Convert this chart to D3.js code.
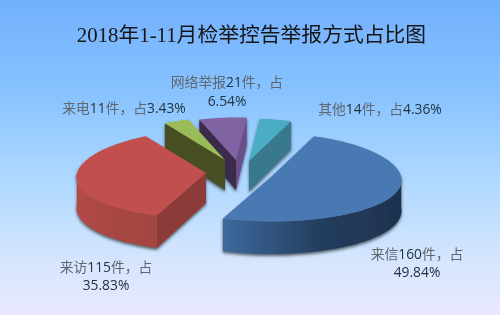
<!DOCTYPE html>
<html><head><meta charset="utf-8">
<script src="https://cdn.jsdelivr.net/npm/d3@7"></script>
<style>html,body{margin:0;padding:0;background:#e6e6ff}svg{display:block}</style>
</head><body><div id="c"></div>
<script>
const title = "2018年1-11月检举控告举报方式占比图";
const categories = ["来信","来访","来电","网络举报","其他"];
const counts = [160,115,11,21,14];
const percents = ["49.84%","35.83%","3.43%","6.54%","4.36%"];

const W=500,H=315;
const layout = {
  startDeg:21, rx:129, ry:44, persp:0.098, squash:1.5, depth:30, depthVar:2.5,
  explode:[[272,176],[206,173],[225,160],[236,160],[249,161]],
  labelPos:[[417,254],[106,267],[124,108],[227,82],[380,109]],
  labelWrap:[true,true,false,true,false],
  lineGap:[18,18,0,19,0]
};
const palette = {
  top:["#4a79b2","#c0504d","#9bbb59","#8064a2","#4bacc6"],
  rimL:["#3d6a9e","#b24a47","#6e8a3d","#5d4a78","#37798d"],
  rimR:["#1e324e","#a44542","#4a5422","#3a2c4a","#2f6a7c"],
  startWall:["#28405f","#8d3a37","#464f22","#3a2c4b","#37798d"],
  endWall:["#28405f","#8d3a37","#464f22","#6a4f87","#37798d"]
};

const svg=d3.select("#c").append("svg").attr("width",W).attr("height",H);
const defs=svg.append("defs");
const bg=defs.append("linearGradient").attr("id","bg").attr("x1",0).attr("y1",0).attr("x2",0).attr("y2",1);
[[0,"#72b0fd"],[0.3,"#88c3ff"],[0.6,"#b3daff"],[0.85,"#d9e6fe"],[1,"#e8e8ff"]].forEach(s=>bg.append("stop").attr("offset",s[0]).attr("stop-color",s[1]));
const sh=defs.append("filter").attr("id","sh").attr("x","-20%").attr("y","-20%").attr("width","140%").attr("height","150%");
sh.append("feDropShadow").attr("dx",0).attr("dy",2).attr("stdDeviation",1.8).attr("flood-color","#2a3038").attr("flood-opacity",0.75);
const soft=defs.append("filter").attr("id","soft");
soft.append("feGaussianBlur").attr("stdDeviation",0.35);

svg.append("rect").attr("width",W).attr("height",H).attr("fill","url(#bg)");
svg.append("text").attr("x",251.5).attr("y",42).attr("text-anchor","middle")
  .attr("font-family","'Liberation Serif','Noto Sans CJK SC',serif").attr("font-size",20.8).attr("fill","#141414")
  .attr("filter","url(#soft)").text(title);

const toRad=Math.PI/180;
const pie=d3.pie().sort(null).startAngle(layout.startDeg*toRad).endAngle((layout.startDeg+360)*toRad);
const arcs=pie(counts);
const line=d3.line();

function proj(c,th){
  const s=Math.sin(th),k=Math.cos(th);
  return [c[0]+s*layout.rx*(1-layout.persp*k), c[1]-k*layout.ry+layout.squash*k*k];
}
function down(p,th){return [p[0],p[1]+layout.depth-layout.depthVar*Math.cos(th)];}
function sampled(a,b){const n=Math.max(2,Math.ceil(Math.abs(b-a)/(1.5*toRad)));return d3.range(n+1).map(i=>a+(b-a)*i/n);}

const mid=d=>(d.startAngle+d.endAngle)/2;
const order=arcs.map((d,i)=>i).sort((a,b)=>Math.cos(mid(arcs[b]))-Math.cos(mid(arcs[a])));

order.forEach(i=>{
  const d=arcs[i],c=layout.explode[i],a0=d.startAngle,a1=d.endAngle;
  const g=svg.append("g").attr("filter","url(#sh)");
  const gid="rim"+i;
  const lg=defs.append("linearGradient").attr("id",gid);
  lg.append("stop").attr("offset",0).attr("stop-color",palette.rimL[i]);
  lg.append("stop").attr("offset",0.55).attr("stop-color",d3.interpolateRgb(palette.rimL[i],palette.rimR[i])(0.8));
  lg.append("stop").attr("offset",1).attr("stop-color",palette.rimR[i]);
  const ps=proj(c,a0),pe=proj(c,a1);
  const apexBottom=[c[0],c[1]+layout.depth];
  // radial walls, only those that face the viewer
  if(ps[0]<c[0]) g.append("path").attr("fill",palette.startWall[i])
    .attr("d",line([c,ps,down(ps,a0),apexBottom])+"Z");
  if(c[0]<pe[0]) g.append("path").attr("fill",palette.endWall[i])
    .attr("d",line([c,pe,down(pe,a1),apexBottom])+"Z");
  // outer rim: only the front half (cos < 0) is visible
  const front=sampled(a0,a1).filter(t=>Math.cos(t)<=0);
  if(front.length>1){
    const topE=front.map(t=>proj(c,t));
    const botE=front.map(t=>down(proj(c,t),t)).reverse();
    g.append("path").attr("fill",`url(#${gid})`).attr("d",line(topE.concat(botE))+"Z");
  }
  const rimTop=sampled(a0,a1).map(t=>proj(c,t));
  g.append("path").attr("fill",palette.top[i]).attr("d",line([c].concat(rimTop))+"Z");
});

// labels
const labelFont="'Open Sans','Noto Sans CJK SC',sans-serif";
function addRuns(sel,str){
  str.split(/([0-9.%]+)/).filter(s=>s).forEach(run=>{
    const digit=/^[0-9.%]+$/.test(run);
    sel.append("tspan").attr("fill",digit?"#23323f":"#5f666e")
      .attr("font-family",digit?"'Open Sans',sans-serif":"'Noto Sans CJK SC',sans-serif").text(run);
  });
}
categories.forEach((cat,i)=>{
  const [x,y]=layout.labelPos[i];
  const wrap=layout.labelWrap[i];
  const first=wrap?`${cat}${counts[i]}件，占`:`${cat}${counts[i]}件，占${percents[i]}`;
  const t1=svg.append("text").attr("x",x).attr("y",y+5).attr("text-anchor","middle").attr("font-size",13.8).attr("font-family",labelFont).attr("filter","url(#soft)");
  addRuns(t1,first);
  if(wrap){
    const t2=svg.append("text").attr("x",x).attr("y",y+5+layout.lineGap[i]).attr("text-anchor","middle").attr("font-size",13.8).attr("font-family",labelFont).attr("filter","url(#soft)");
    addRuns(t2,percents[i]);
  }
});
</script></body></html>
